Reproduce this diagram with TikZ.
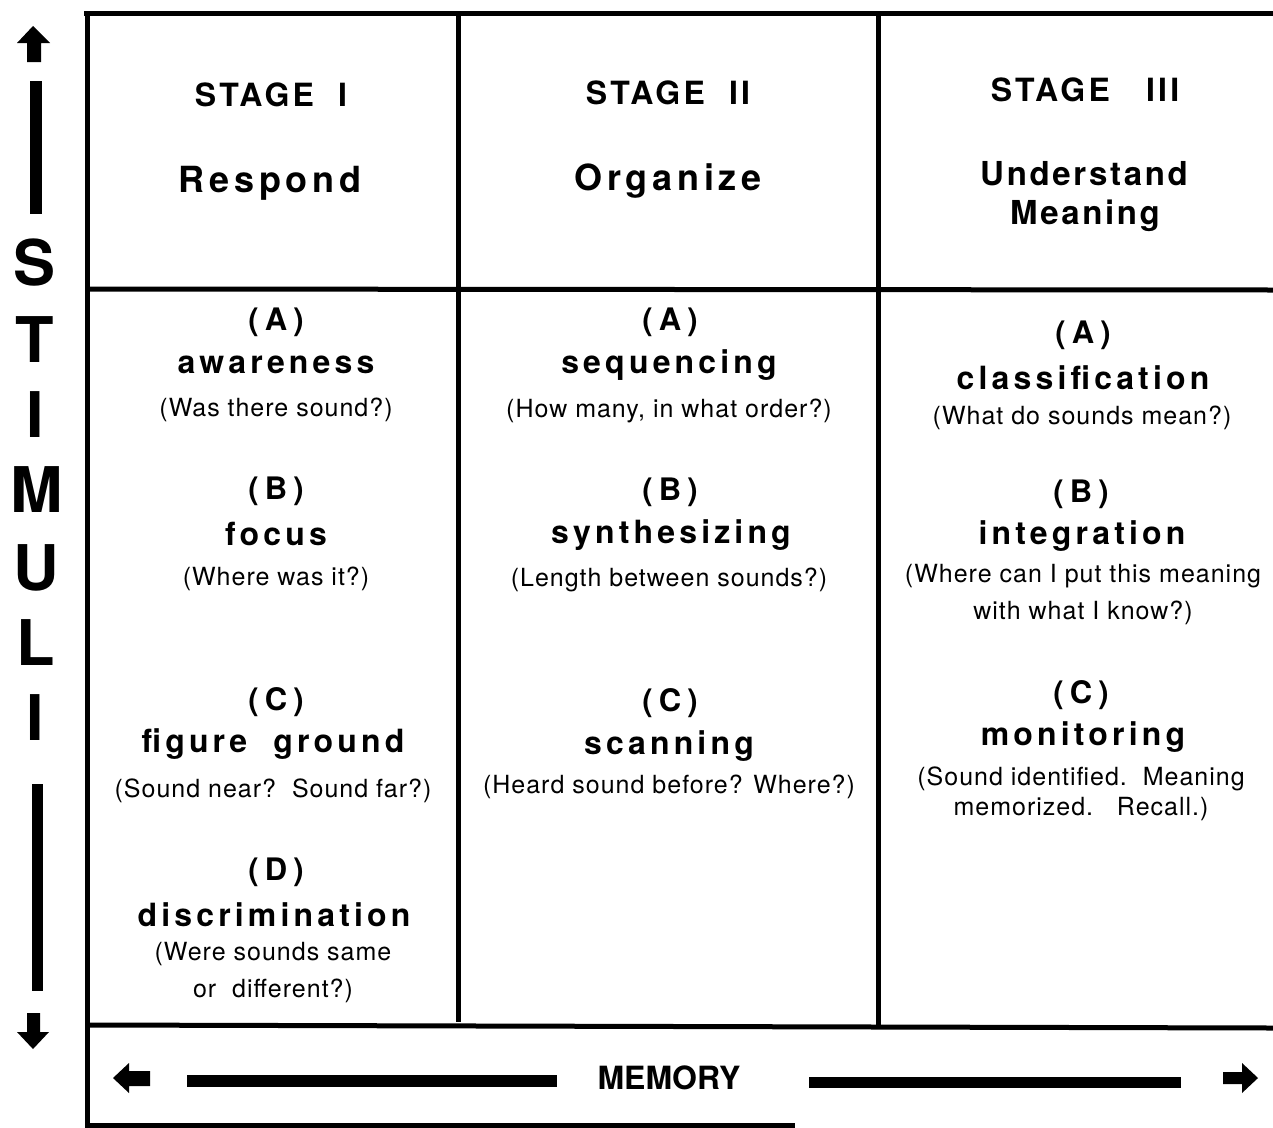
\documentclass[tikz,border=0pt]{standalone}
\usepackage{fontspec}
\setmainfont{TeX Gyre Heros}
\newfontfamily\hvq{TeX Gyre Heros}[LetterSpace=4]
\newfontfamily\hvt{TeX Gyre Heros}[LetterSpace=13]
\newfontfamily\hvl{TeX Gyre Heros}[LetterSpace=20]
\newfontfamily\hvh{TeX Gyre Heros}[LetterSpace=13]
\newfontfamily\hvu{TeX Gyre Heros}[LetterSpace=8]
\newfontfamily\hvs{TeX Gyre Heros}[LetterSpace=10]
\begin{document}
\begin{tikzpicture}[x=1pt,y=-1pt,
  txt/.style={inner sep=0pt, yshift=-2.5pt},
  stagelbl/.style={txt, font=\hvs\bfseries\fontsize{32}{38}\selectfont},
  headword/.style={txt, font=\hvh\bfseries\fontsize{36}{42}\selectfont},
  headwordb/.style={txt, font=\hvu\bfseries\fontsize{33}{39}\selectfont},
  letterlbl/.style={txt, font=\hvl\bfseries\fontsize{31}{36}\selectfont},
  term/.style={txt, font=\hvt\bfseries\fontsize{32}{38}\selectfont},
  question/.style={txt, font=\hvq\fontsize{25}{30}\selectfont},
  stim/.style={inner sep=0pt, font=\bfseries\fontsize{63}{70}\selectfont},
  memlbl/.style={inner sep=0pt, font=\bfseries\fontsize{32}{38}\selectfont},
  frame/.style={line width=5pt},
  bar/.style={fill=black, draw=none}
]
\useasboundingbox (0,0) rectangle (1273,1127);
\fill[white] (0,0) rectangle (1273,1127);

% frame lines
\draw[frame] (84,13) -- (1273,13);
\draw[frame] (87,11) -- (87,1127);
\draw[frame] (458,11) -- (458,1022);
\draw[frame] (878,15) -- (878,1027);
\draw[frame] (87,289) -- (1273,290);
\draw[frame] (87,1025) -- (1273,1028);
\draw[frame] (85,1125) -- (795,1125);

% header
\node[stagelbl] (s1) at (271,92) {STAGE~~I};
\node[headword] (h1) at (270,181) {Respond};
\node[stagelbl] (s2) at (668,90) {STAGE~~II};
\node[headword] (h2) at (668,179) {Organize};
\node[stagelbl] (s3) at (1085,87) {STAGE~~~III};
\node[headwordb] (h3a) at (1084,171) {Understand};
\node[headwordb] (h3b) at (1085,213) {Meaning};

% column 1
\node[letterlbl] (c1a) at (276,320) {(A)};
\node[term] (c1at) at (276,362) {awareness};
\node[question] (c1aq) at (276,407) {(Was there sound?)};
\node[letterlbl] (c1b) at (276,489) {(B)};
\node[term] (c1bt) at (276,531) {focus};
\node[question] (c1bq) at (276,576) {(Where was it?)};
\node[letterlbl] (c1c) at (276,700) {(C)};
\node[term] (c1ct) at (273,742) {figure~~ground};
\node[question] (c1cq) at (273,788) {(Sound near?~~Sound far?)};
\node[letterlbl] (c1d) at (276,870) {(D)};
\node[term] (c1dt) at (274,912) {discrimination};
\node[question] (c1dq1) at (273,952) {(Were sounds same};
\node[question] (c1dq2) at (273,988) {or~~different?)};

% column 2
\node[letterlbl] (c2a) at (670,320) {(A)};
\node[term] (c2at) at (669,363) {sequencing};
\node[question] (c2aq) at (669,408) {(How many, in what order?)};
\node[letterlbl] (c2b) at (670,490) {(B)};
\node[term] (c2bt) at (671,533) {synthesizing};
\node[question] (c2bq) at (669,577) {(Length between sounds?)};
\node[letterlbl] (c2c) at (670,701) {(C)};
\node[term] (c2ct) at (669,744) {scanning};
\node[question] (c2cq) at (669,784) {(Heard sound before? Where?)};

% column 3
\node[letterlbl] (c3a) at (1083,333) {(A)};
\node[term] (c3at) at (1083,375) {classification};
\node[question] (c3aq) at (1082,415) {(What do sounds mean?)};
\node[letterlbl] (c3b) at (1081,492) {(B)};
\node[term] (c3bt) at (1082,534) {integration};
\node[question] (c3bq1) at (1083,574) {(Where can I put this meaning};
\node[question] (c3bq2) at (1083,610) {with what I know?)};
\node[letterlbl] (c3c) at (1081,693) {(C)};
\node[term] (c3ct) at (1083,735) {monitoring};
\node[question] (c3cq1) at (1081,776) {(Sound identified.~~Meaning};
\node[question] (c3cq2) at (1081,807) {memorized.~~~Recall.)};

% STIMULI
\node[stim] (st1) at (35,263) {S};
\node[stim] (st2) at (35,340) {T};
\node[stim] (st3) at (35,415) {I};
\node[stim] (st4) at (37,490) {M};
\node[stim] (st5) at (36,568) {U};
\node[stim] (st6) at (36,643) {L};
\node[stim] (st7) at (35,718) {I};

% vertical arrows and bars
\fill (33,26) -- (50,43) -- (41,43) -- (41,62) -- (27,62) -- (27,43) -- (17,43) -- cycle;
\fill[bar] (29.5,81) rectangle (41.5,214);
\fill[bar] (31.5,784) rectangle (43,991);
\fill (27,1013) -- (40,1013) -- (40,1032) -- (49,1032) -- (33,1049) -- (17,1032) -- (27,1032) -- cycle;

% MEMORY row
\node[memlbl] (mem) at (669,1078) {MEMORY};
\fill (113,1078) -- (129,1063) -- (129,1071) -- (150,1071) -- (150,1086) -- (129,1086) -- (129,1093) -- cycle;
\fill[bar] (187,1075) rectangle (557,1087);
\fill[bar] (809,1077) rectangle (1181,1088);
\fill (1258,1078) -- (1242,1063) -- (1242,1072) -- (1223,1072) -- (1223,1084) -- (1242,1084) -- (1242,1093) -- cycle;
\end{tikzpicture}
\end{document}
